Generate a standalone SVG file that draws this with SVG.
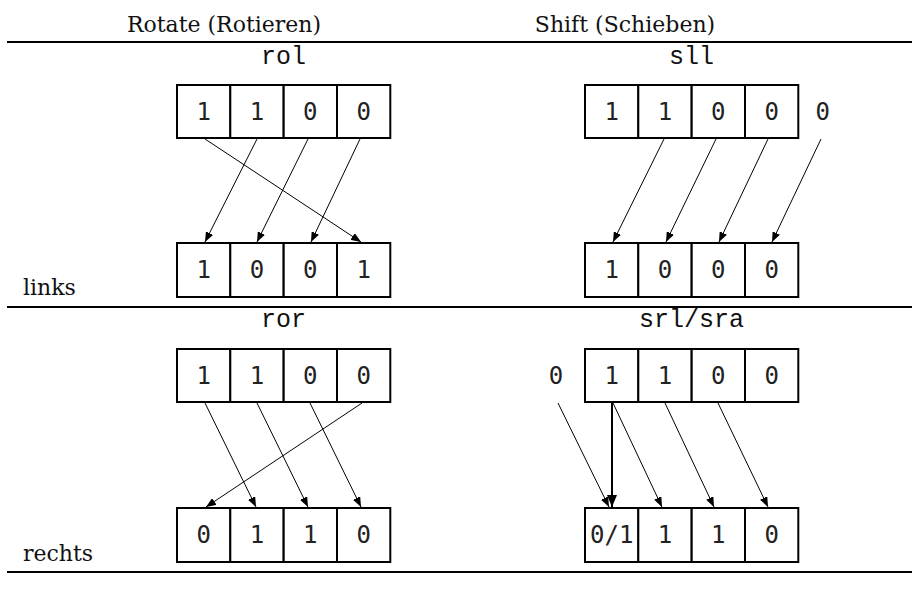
<svg xmlns="http://www.w3.org/2000/svg" width="912" height="610" viewBox="0 0 912 610">
<defs>
<marker id="ah" markerUnits="userSpaceOnUse" markerWidth="10" markerHeight="8" refX="10" refY="4" orient="auto"><path d="M0,0 L10,4 L0,8 z" fill="#000"/></marker>
<marker id="ahb" markerUnits="userSpaceOnUse" markerWidth="12" markerHeight="10" refX="12" refY="5" orient="auto"><path d="M0,0 L12,5 L0,10 z" fill="#000"/></marker>
</defs>
<style>
.hdr{font-family:"DejaVu Serif","Liberation Serif",serif;font-size:22px;fill:#111}
.lbl{font-family:"DejaVu Serif","Liberation Serif",serif;font-size:22px;fill:#111}
.op{font-family:"Liberation Mono","Courier New",monospace;font-size:25px;fill:#111;text-anchor:middle}
.cell{fill:#fff;stroke:#000;stroke-width:2}
.d{font-family:"DejaVu Sans Mono",monospace;font-size:24px;fill:#222;text-anchor:middle}
.rule{stroke:#000;stroke-width:2}
.c{stroke:#000;stroke-width:1;fill:none;marker-end:url(#ah)}
.cb{stroke:#000;stroke-width:2;fill:none;marker-end:url(#ahb)}
</style>
<rect width="912" height="610" fill="#fff"/>
<g id="headers">
<text class="hdr" x="224" y="32" text-anchor="middle">Rotate (Rotieren)</text>
<text class="hdr" x="625" y="32" text-anchor="middle">Shift (Schieben)</text>
<text class="lbl" x="23" y="295">links</text>
<text class="lbl" x="23" y="561">rechts</text>
<text class="op" x="283.5" y="64">rol</text>
<text class="op" x="691.5" y="64">sll</text>
<text class="op" x="283.5" y="327">ror</text>
<text class="op" x="691.5" y="327">srl/sra</text>
</g>
<g id="rules">
<line class="rule" x1="7" y1="42" x2="912" y2="42"/>
<line class="rule" x1="7" y1="307" x2="912" y2="307"/>
<line class="rule" x1="7" y1="572" x2="912" y2="572"/>
</g>
<g id="rol-in">
<rect class="cell" x="177" y="85" width="53.3" height="53"/><rect class="cell" x="230.3" y="85" width="53.3" height="53"/><rect class="cell" x="283.7" y="85" width="53.3" height="53"/><rect class="cell" x="337" y="85" width="53.3" height="53"/>
<text class="d" x="203.7" y="120">1</text><text class="d" x="257" y="120">1</text><text class="d" x="310.3" y="120">0</text><text class="d" x="363.7" y="120">0</text>
</g>
<g id="rol-out">
<rect class="cell" x="177" y="243" width="53.3" height="54"/><rect class="cell" x="230.3" y="243" width="53.3" height="54"/><rect class="cell" x="283.7" y="243" width="53.3" height="54"/><rect class="cell" x="337" y="243" width="53.3" height="54"/>
<text class="d" x="203.7" y="278">1</text><text class="d" x="257" y="278">0</text><text class="d" x="310.3" y="278">0</text><text class="d" x="363.7" y="278">1</text>
</g>
<g id="sll-in">
<rect class="cell" x="585" y="85" width="53.3" height="53"/><rect class="cell" x="638.3" y="85" width="53.3" height="53"/><rect class="cell" x="691.7" y="85" width="53.3" height="53"/><rect class="cell" x="745" y="85" width="53.3" height="53"/>
<text class="d" x="611.7" y="120">1</text><text class="d" x="665" y="120">1</text><text class="d" x="718.3" y="120">0</text><text class="d" x="771.7" y="120">0</text>
<text class="d" x="822.7" y="120">0</text>
</g>
<g id="sll-out">
<rect class="cell" x="585" y="243" width="53.3" height="54"/><rect class="cell" x="638.3" y="243" width="53.3" height="54"/><rect class="cell" x="691.7" y="243" width="53.3" height="54"/><rect class="cell" x="745" y="243" width="53.3" height="54"/>
<text class="d" x="611.7" y="278">1</text><text class="d" x="665" y="278">0</text><text class="d" x="718.3" y="278">0</text><text class="d" x="771.7" y="278">0</text>
</g>
<g id="ror-in">
<rect class="cell" x="177" y="349" width="53.3" height="53"/><rect class="cell" x="230.3" y="349" width="53.3" height="53"/><rect class="cell" x="283.7" y="349" width="53.3" height="53"/><rect class="cell" x="337" y="349" width="53.3" height="53"/>
<text class="d" x="203.7" y="384">1</text><text class="d" x="257" y="384">1</text><text class="d" x="310.3" y="384">0</text><text class="d" x="363.7" y="384">0</text>
</g>
<g id="ror-out">
<rect class="cell" x="177" y="508" width="53.3" height="54"/><rect class="cell" x="230.3" y="508" width="53.3" height="54"/><rect class="cell" x="283.7" y="508" width="53.3" height="54"/><rect class="cell" x="337" y="508" width="53.3" height="54"/>
<text class="d" x="203.7" y="543">0</text><text class="d" x="257" y="543">1</text><text class="d" x="310.3" y="543">1</text><text class="d" x="363.7" y="543">0</text>
</g>
<g id="srl-in">
<rect class="cell" x="585" y="349" width="53.3" height="53"/><rect class="cell" x="638.3" y="349" width="53.3" height="53"/><rect class="cell" x="691.7" y="349" width="53.3" height="53"/><rect class="cell" x="745" y="349" width="53.3" height="53"/>
<text class="d" x="611.7" y="384">1</text><text class="d" x="665" y="384">1</text><text class="d" x="718.3" y="384">0</text><text class="d" x="771.7" y="384">0</text>
<text class="d" x="556" y="384">0</text>
</g>
<g id="srl-out">
<rect class="cell" x="585" y="508" width="53.3" height="54"/><rect class="cell" x="638.3" y="508" width="53.3" height="54"/><rect class="cell" x="691.7" y="508" width="53.3" height="54"/><rect class="cell" x="745" y="508" width="53.3" height="54"/>
<text class="d" x="611.7" y="543">0/1</text><text class="d" x="665" y="543">1</text><text class="d" x="718.3" y="543">1</text><text class="d" x="771.7" y="543">0</text>
</g>
<g id="connectors">
<line class="c" x1="205" y1="139" x2="361" y2="242"/>
<line class="c" x1="257" y1="139" x2="205" y2="242"/>
<line class="c" x1="308" y1="139" x2="257" y2="242"/>
<line class="c" x1="360" y1="139" x2="311" y2="242"/>
<line class="c" x1="664" y1="139" x2="613" y2="242"/>
<line class="c" x1="716" y1="139" x2="666" y2="242"/>
<line class="c" x1="768" y1="139" x2="719" y2="242"/>
<line class="c" x1="821" y1="139" x2="772" y2="242"/>
<line class="c" x1="205" y1="403" x2="256" y2="507"/>
<line class="c" x1="257" y1="403" x2="308" y2="507"/>
<line class="c" x1="310" y1="403" x2="361" y2="507"/>
<line class="c" x1="362" y1="403" x2="206" y2="507"/>
<line class="c" x1="558" y1="403" x2="609" y2="507"/>
<line class="c" x1="613" y1="403" x2="662" y2="507"/>
<line class="c" x1="665" y1="403" x2="714" y2="507"/>
<line class="c" x1="718" y1="403" x2="768" y2="507"/>
<line class="cb" x1="612" y1="403" x2="612" y2="507"/>
</g>
</svg>
